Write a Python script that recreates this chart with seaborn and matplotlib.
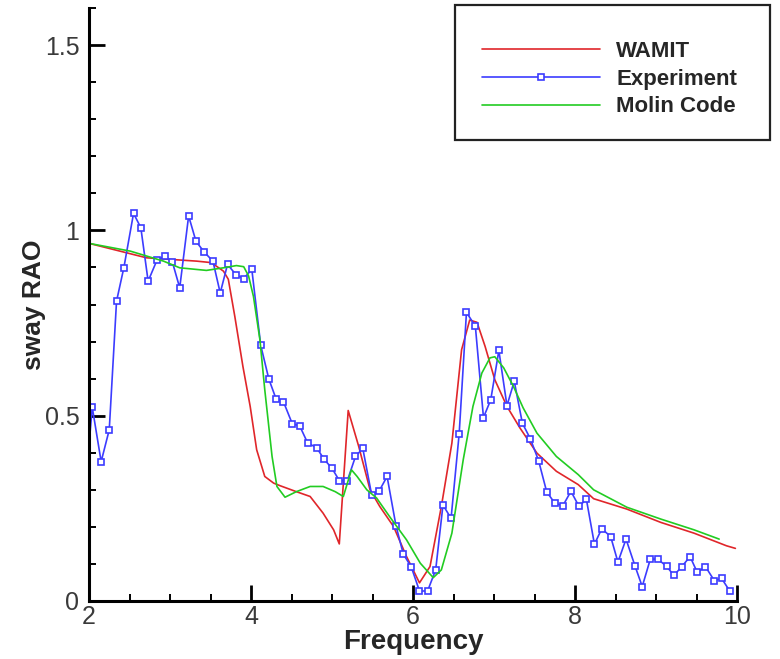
import numpy as np
import pandas as pd
import matplotlib
matplotlib.use("Agg")
import matplotlib.pyplot as plt
from matplotlib.patches import Rectangle
from matplotlib.ticker import MultipleLocator
import seaborn as sns

# Experimental sway RAO
exp_freq = [2.00, 2.04, 2.15, 2.25, 2.34, 2.43, 2.55, 2.64, 2.73, 2.84, 2.94,
            3.03, 3.12, 3.23, 3.32, 3.42, 3.53, 3.62, 3.71, 3.82, 3.91, 4.01,
            4.12, 4.22, 4.31, 4.40, 4.51, 4.60, 4.70, 4.81, 4.90, 5.00, 5.09,
            5.19, 5.29, 5.38, 5.49, 5.58, 5.68, 5.79, 5.88, 5.98, 6.08, 6.18,
            6.28, 6.37, 6.47, 6.57, 6.66, 6.77, 6.87, 6.96, 7.06, 7.16, 7.25,
            7.35, 7.45, 7.55, 7.65, 7.75, 7.85, 7.95, 8.05, 8.14, 8.24, 8.33,
            8.44, 8.53, 8.63, 8.74, 8.83, 8.93, 9.02, 9.13, 9.22, 9.32, 9.42,
            9.51, 9.61, 9.72, 9.81, 9.91]
exp_rao = [0.420, 0.523, 0.376, 0.462, 0.809, 0.899, 1.046, 1.007, 0.863, 0.920, 0.931,
           0.914, 0.845, 1.039, 0.971, 0.942, 0.917, 0.831, 0.908, 0.879, 0.870, 0.895,
           0.690, 0.599, 0.545, 0.538, 0.478, 0.473, 0.426, 0.414, 0.383, 0.358, 0.325,
           0.325, 0.390, 0.412, 0.286, 0.296, 0.336, 0.203, 0.127, 0.091, 0.027, 0.027,
           0.084, 0.259, 0.223, 0.451, 0.779, 0.741, 0.495, 0.543, 0.676, 0.527, 0.593,
           0.480, 0.437, 0.379, 0.295, 0.264, 0.257, 0.296, 0.255, 0.275, 0.153, 0.195,
           0.174, 0.105, 0.167, 0.095, 0.039, 0.113, 0.113, 0.094, 0.069, 0.093, 0.120,
           0.077, 0.093, 0.055, 0.061, 0.027]

# WAMIT prediction
wamit_freq = [2.00, 2.71, 3.33, 3.51, 3.66, 3.72, 3.80, 3.90, 3.99, 4.07, 4.17,
              4.28, 4.36, 4.56, 4.73, 4.89, 5.02, 5.09, 5.20, 5.33, 5.47, 5.59,
              5.76, 5.92, 6.08, 6.21, 6.35, 6.48, 6.60, 6.70, 6.79, 6.89, 7.01,
              7.16, 7.32, 7.53, 7.77, 8.04, 8.23, 8.64, 9.06, 9.47, 9.87, 9.98]
wamit_rao = [0.965, 0.926, 0.917, 0.913, 0.890, 0.868, 0.768, 0.633, 0.525, 0.408, 0.336,
             0.318, 0.311, 0.295, 0.282, 0.237, 0.192, 0.154, 0.514, 0.417, 0.300, 0.255,
             0.201, 0.120, 0.049, 0.093, 0.255, 0.426, 0.678, 0.758, 0.752, 0.687, 0.597,
             0.525, 0.467, 0.399, 0.350, 0.314, 0.276, 0.248, 0.212, 0.183, 0.149, 0.142]

# Molin code prediction
molin_freq = [2.00, 2.51, 2.92, 3.12, 3.45, 3.66, 3.82, 3.91, 3.97, 4.03, 4.11,
              4.17, 4.26, 4.32, 4.42, 4.56, 4.73, 4.89, 5.04, 5.14, 5.24, 5.31,
              5.43, 5.55, 5.72, 5.92, 6.09, 6.25, 6.35, 6.48, 6.62, 6.74, 6.85,
              6.95, 7.01, 7.12, 7.24, 7.36, 7.53, 7.77, 8.04, 8.23, 8.64, 9.06,
              9.47, 9.78]
molin_rao = [0.965, 0.944, 0.917, 0.899, 0.892, 0.899, 0.905, 0.902, 0.877, 0.822, 0.705,
             0.570, 0.390, 0.309, 0.280, 0.295, 0.309, 0.309, 0.295, 0.282, 0.354, 0.336,
             0.300, 0.278, 0.225, 0.165, 0.102, 0.063, 0.084, 0.183, 0.381, 0.525, 0.615,
             0.656, 0.659, 0.629, 0.579, 0.521, 0.453, 0.390, 0.341, 0.300, 0.253, 0.221,
             0.192, 0.167]

x_ticks = [2, 4, 6, 8, 10]
y_ticks = [0, 0.5, 1, 1.5]
y_tick_labels = ["0", "0.5", "1", "1.5"]

sns.set_theme(style="white")
plt.rcParams["font.family"] = ["Liberation Sans", "DejaVu Sans"]

fig = plt.figure(figsize=(7.8, 6.59), dpi=100)
ax = fig.add_axes([89 / 780, 58 / 659, 648 / 780, 593 / 659])

wamit_df = pd.DataFrame({"freq": wamit_freq, "rao": wamit_rao})
exp_df = pd.DataFrame({"freq": exp_freq, "rao": exp_rao})
molin_df = pd.DataFrame({"freq": molin_freq, "rao": molin_rao})

sns.lineplot(data=wamit_df, x="freq", y="rao", ax=ax, sort=False, estimator=None,
             color="#e0262a", lw=1.2, label="WAMIT")
sns.lineplot(data=exp_df, x="freq", y="rao", ax=ax, sort=False, estimator=None,
             color="#3c3cff", lw=1.2, marker="s", markersize=4.8,
             markerfacecolor="white", markeredgecolor="#3c3cff", markeredgewidth=1.2,
             markevery=slice(1, None), label="Experiment")
sns.lineplot(data=molin_df, x="freq", y="rao", ax=ax, sort=False, estimator=None,
             color="#22cc22", lw=1.2, label="Molin Code")

ax.set_xlim(2, 10)
ax.set_ylim(0, 1.6)
ax.set_xticks(x_ticks)
ax.set_xticklabels([str(t) for t in x_ticks])
ax.set_yticks(y_ticks)
ax.set_yticklabels(y_tick_labels)
ax.xaxis.set_minor_locator(MultipleLocator(0.5))
ax.yaxis.set_minor_locator(MultipleLocator(0.1))
ax.tick_params(which="major", direction="in", length=11.5, width=2.0, color="black",
               labelsize=18, labelcolor="#3a3a3a", pad=3)
ax.tick_params(which="minor", direction="in", length=5, width=1.4, color="black")
ax.tick_params(axis="x", which="both", bottom=True, top=False)
ax.tick_params(axis="y", which="both", left=True, right=False)
ax.tick_params(axis="y", which="major", pad=7)

for side in ("top", "right"):
    ax.spines[side].set_visible(False)
for side in ("left", "bottom"):
    ax.spines[side].set_color("black")
    ax.spines[side].set_linewidth(2.2)

ax.set_xlabel("Frequency", fontsize=20, fontweight="bold", labelpad=0)
ax.set_ylabel("sway RAO", fontsize=19, fontweight="bold", labelpad=-1)

# Legend inside a framed box in the upper-right corner
fig.patches.append(Rectangle((455 / 780, 1 - 140 / 659), 315 / 780, 135 / 659,
                             transform=fig.transFigure, fill=False,
                             edgecolor="#222222", lw=1.6, zorder=5))
leg = ax.legend(loc="upper left", bbox_to_anchor=(482 / 780, 1 - 41 / 659),
                bbox_transform=fig.transFigure, frameon=False,
                prop={"size": 16, "weight": "bold"}, handlelength=5.3,
                handletextpad=0.75, labelspacing=0.3, borderpad=0,
                borderaxespad=0, markerscale=1.0)

fig.savefig("out.png", dpi=100)
